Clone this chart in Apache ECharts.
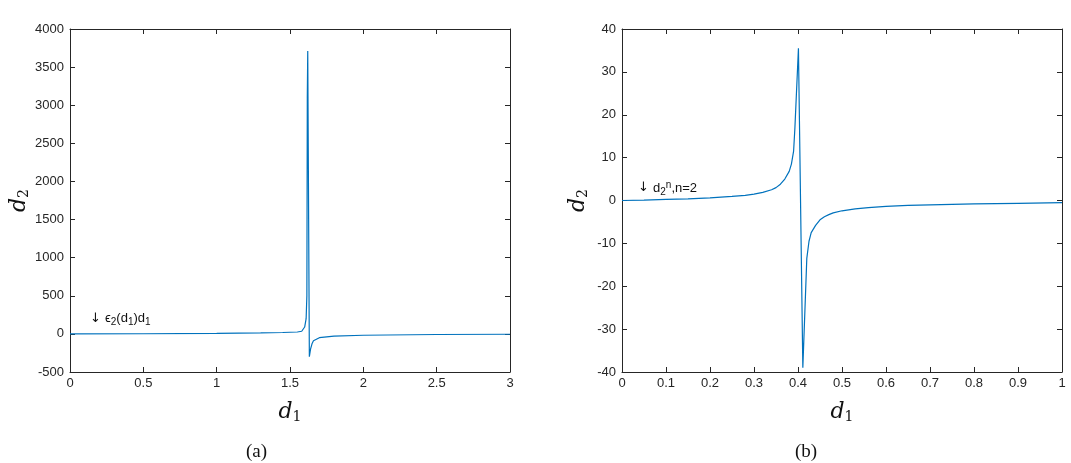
<!DOCTYPE html>
<html>
<head>
<meta charset="utf-8">
<script src="https://cdn.jsdelivr.net/npm/echarts@6/dist/echarts.min.js"></script>
<style>
  html, body { margin: 0; padding: 0; background: #fff; }
  #chart { width: 1071px; height: 463px; }
</style>
</head>
<body>
<div id="chart"></div>
<script>
// (a) epsilon_2(d1) d1
const leftD1 = [0, 0.5, 1.0, 1.3, 1.45, 1.55, 1.58, 1.6, 1.61, 1.615, 1.618, 1.621, 1.632, 1.64, 1.65, 1.66, 1.7, 1.8, 2.0, 2.5, 3.0];
const leftD2 = [0, 2, 6, 12, 18, 25, 35, 90, 200, 500, 3100, 3710, -300, -200, -130, -90, -50, -30, -18, -8, -5];

// (b) d2^n, n=2
const rightD1 = [0, 0.05, 0.1, 0.15, 0.2, 0.25, 0.28, 0.3, 0.32, 0.34, 0.35, 0.36, 0.37, 0.38, 0.385, 0.39, 0.393, 0.401, 0.411, 0.42, 0.425, 0.43, 0.44, 0.45, 0.46, 0.47, 0.48, 0.5, 0.53, 0.56, 0.6, 0.65, 0.7, 0.8, 0.9, 1.0];
const rightD2 = [0, 0.1, 0.25, 0.4, 0.6, 0.95, 1.2, 1.5, 1.9, 2.5, 3.0, 3.8, 5.0, 6.8, 8.5, 11.5, 17, 35.5, -39, -13.5, -9.5, -7.5, -5.8, -4.5, -3.8, -3.3, -2.9, -2.4, -1.95, -1.65, -1.35, -1.15, -1.0, -0.8, -0.65, -0.5];

const axisColor = '#262626';
const lineColor = '#0072BD';
const tickFont = {
    color: axisColor, fontSize: 13, fontFamily: 'Liberation Sans, Arial, sans-serif',
    formatter: v => String(Math.round(v * 1000) / 1000)
};
const nameRich = {
    i: { fontFamily: 'DejaVu Serif, serif', fontStyle: 'italic', fontSize: 22, color: '#111' },
    s: { fontFamily: 'DejaVu Serif, serif', fontSize: 14, color: '#111', padding: [10, 0, 0, 0] }
};
const noteRich = {
    a: { fontFamily: 'DejaVu Sans, sans-serif', fontSize: 13, fill: '#111' },
    t: { fontFamily: 'Liberation Sans, Arial, sans-serif', fontSize: 13, fill: '#111' },
    sub: { fontFamily: 'Liberation Sans, Arial, sans-serif', fontSize: 10, fill: '#111', padding: [8, 0, 0, 0] },
    sup: { fontFamily: 'Liberation Sans, Arial, sans-serif', fontSize: 10, fill: '#111', padding: [0, 0, 6, 0] }
};

const pair = (xs, ys) => xs.map((x, i) => [x, ys[i]]);

const chart = echarts.init(document.getElementById('chart'));

const mainX = (grid, max, interval) => ({
    type: 'value', gridIndex: grid, min: 0, max: max, interval: interval,
    axisLine: { show: true, onZero: false, lineStyle: { color: axisColor, width: 1 } },
    axisTick: { show: true, inside: true, length: 5, lineStyle: { color: axisColor } },
    axisLabel: Object.assign({ margin: 5 }, tickFont),
    splitLine: { show: false },
    name: '{i|d}{s|1}', nameLocation: 'middle', nameGap: 28,
    nameTextStyle: { rich: nameRich }
});
const mainY = (grid, min, max, interval, gap) => ({
    type: 'value', gridIndex: grid, min: min, max: max, interval: interval,
    axisLine: { show: true, onZero: false, lineStyle: { color: axisColor, width: 1 } },
    axisTick: { show: true, inside: true, length: 5, lineStyle: { color: axisColor } },
    axisLabel: Object.assign({ margin: 6 }, tickFont),
    splitLine: { show: false },
    name: '{i|d}{s|2}', nameLocation: 'middle', nameGap: gap, nameRotate: 90,
    nameTextStyle: { rich: nameRich }
});
const boxX = (grid, max, interval) => ({
    type: 'value', gridIndex: grid, position: 'top', min: 0, max: max, interval: interval,
    axisLine: { show: true, onZero: false, lineStyle: { color: axisColor, width: 1 } },
    axisTick: { show: true, inside: true, length: 5, lineStyle: { color: axisColor } },
    axisLabel: { show: false }, splitLine: { show: false }
});
const boxY = (grid, min, max, interval) => ({
    type: 'value', gridIndex: grid, position: 'right', min: min, max: max, interval: interval,
    axisLine: { show: true, onZero: false, lineStyle: { color: axisColor, width: 1 } },
    axisTick: { show: true, inside: true, length: 5, lineStyle: { color: axisColor } },
    axisLabel: { show: false }, splitLine: { show: false }
});

const option = {
    animation: false,
    backgroundColor: '#fff',
    grid: [
        { left: 70, top: 29, width: 440, height: 343 },
        { left: 622, top: 29, width: 440, height: 343 }
    ],
    xAxis: [mainX(0, 3, 0.5), mainX(1, 1, 0.1), boxX(0, 3, 0.5), boxX(1, 1, 0.1)],
    yAxis: [mainY(0, -500, 4000, 500, 27), mainY(1, -40, 40, 10, 32), boxY(0, -500, 4000, 500), boxY(1, -40, 40, 10)],
    series: [
        {
            type: 'line', xAxisIndex: 0, yAxisIndex: 0,
            data: pair(leftD1, leftD2), showSymbol: false,
            lineStyle: { color: lineColor, width: 1.2 }
        },
        {
            type: 'line', xAxisIndex: 1, yAxisIndex: 1,
            data: pair(rightD1, rightD2), showSymbol: false,
            lineStyle: { color: lineColor, width: 1.2 }
        }
    ],
    graphic: [
        {
            type: 'text', left: 90, top: 312,
            style: {
                text: '{a|↓ }{t|ϵ}{sub|2}{t|(d}{sub|1}{t|)d}{sub|1}',
                rich: noteRich
            }
        },
        {
            type: 'text', left: 638, top: 180,
            style: {
                text: '{a|↓ }{t|d}{sub|2}{sup|n}{t|,n=2}',
                rich: noteRich
            }
        },
        {
            type: 'text', left: 246, top: 443,
            style: { text: '(a)', fill: '#111', font: '19px "Liberation Serif", serif' }
        },
        {
            type: 'text', left: 795, top: 443,
            style: { text: '(b)', fill: '#111', font: '19px "Liberation Serif", serif' }
        }
    ]
};

chart.setOption(option);
</script>
</body>
</html>
